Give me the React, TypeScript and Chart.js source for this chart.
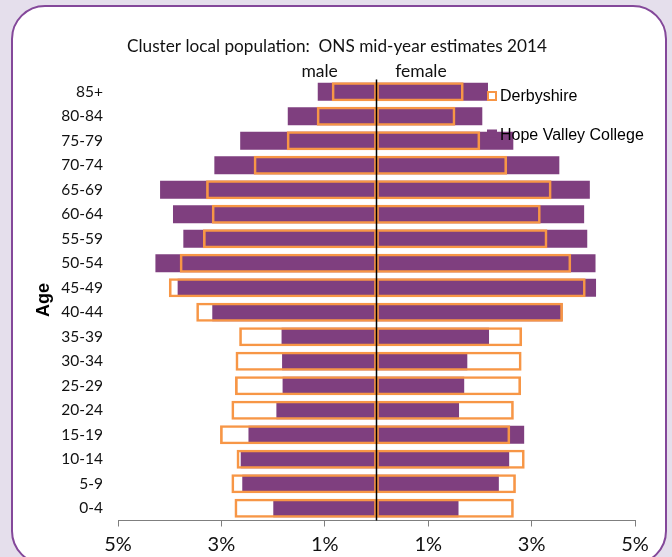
import React, { useEffect, useRef } from "react";
import { Chart, registerables } from "chart.js";

Chart.register(...registerables);

const ageGroups = [
  "85+", "80-84", "75-79", "70-74", "65-69", "60-64", "55-59", "50-54", "45-49",
  "40-44", "35-39", "30-34", "25-29", "20-24", "15-19", "10-14", "5-9", "0-4",
];

// percentages of population (male shown to the left)
const derbyshireMale = [0.86, 1.15, 1.73, 2.37, 3.29, 3.18, 3.35, 3.8, 4.01, 3.48, 2.65, 2.72, 2.73, 2.8, 3.02, 2.7, 2.8, 2.74];
const derbyshireFemale = [1.68, 1.52, 2.0, 2.52, 3.38, 3.17, 3.3, 3.76, 4.04, 3.6, 2.81, 2.8, 2.79, 2.65, 2.58, 2.86, 2.69, 2.65];
const hopeValleyMale = [1.13, 1.71, 2.63, 3.13, 4.18, 3.93, 3.73, 4.27, 3.84, 3.17, 1.83, 1.82, 1.81, 1.93, 2.47, 2.62, 2.59, 1.99];
const hopeValleyFemale = [2.15, 2.04, 2.64, 3.53, 4.12, 4.01, 4.07, 4.23, 4.24, 3.59, 2.17, 1.75, 1.69, 1.59, 2.85, 2.56, 2.36, 1.58];

const xTickValues = [-5, -3, -1, 1, 3, 5];

const chartTitle = "Cluster local population:  ONS mid-year estimates 2014";
const sideLabels = [
  { text: "male", value: -1.1 },
  { text: "female", value: 0.86 },
];
const legendItems = [
  { text: "Derbyshire", kind: "outline" },
  { text: "Hope Valley College", kind: "fill" },
];

const PURPLE = "#7f3f7f";
const ORANGE = "#f79646";
const HUMANIST = "Lato, 'Open Sans', sans-serif";
const ARIAL = "'Liberation Sans', Arial, sans-serif";

const decorPlugin = {
  id: "decor",
  afterDatasetsDraw(chart: any) {
    const { ctx, chartArea, scales } = chart;
    const x0 = scales.x.getPixelForValue(0);
    ctx.save();
    ctx.strokeStyle = "#000";
    ctx.lineWidth = 1.5;
    ctx.beginPath();
    ctx.moveTo(x0, chartArea.top);
    ctx.lineTo(x0, chartArea.bottom);
    ctx.stroke();
    ctx.restore();
  },
  afterDraw(chart: any) {
    const { ctx, chartArea, scales } = chart;
    ctx.save();
    ctx.fillStyle = "#111";
    ctx.textBaseline = "middle";
    ctx.textAlign = "center";
    ctx.font = `17.2px ${HUMANIST}`;
    ctx.fillText(chartTitle, 337, chartArea.top - 33);
    ctx.font = `17.5px ${HUMANIST}`;
    for (const s of sideLabels) {
      ctx.fillText(s.text, scales.x.getPixelForValue(s.value), chartArea.top - 8.5);
    }
    // legend
    ctx.textAlign = "left";
    ctx.font = `16px ${ARIAL}`;
    const lx = chartArea.right - 147;
    legendItems.forEach((item, i) => {
      const cy = chartArea.top + 16.5 + i * 38.5;
      if (item.kind === "outline") {
        ctx.strokeStyle = ORANGE;
        ctx.lineWidth = 2;
        ctx.fillStyle = "#fff";
        ctx.fillRect(lx, cy - 4, 8, 8);
        ctx.strokeRect(lx, cy - 4, 8, 8);
      } else {
        ctx.fillStyle = PURPLE;
        ctx.fillRect(lx - 1, cy - 5, 10, 8);
      }
      ctx.fillStyle = "#000";
      ctx.fillText(item.text, lx + 12, cy + 1);
    });
    ctx.restore();
  },
};

export default function App() {
  const ref = useRef<HTMLCanvasElement | null>(null);

  useEffect(() => {
    if (!ref.current) return;
    const outline = {
      backgroundColor: "rgba(0,0,0,0)",
      borderColor: ORANGE,
      borderWidth: 2,
      borderSkipped: false,
      barThickness: 18.5,
      grouped: false,
    };
    const filled = {
      backgroundColor: PURPLE,
      borderWidth: 0,
      barThickness: 17.5,
      grouped: false,
    };
    const chart = new Chart(ref.current, {
      type: "bar",
      data: {
        labels: ageGroups,
        datasets: [
          { label: "Derbyshire", data: derbyshireMale.map((v) => -v), ...outline },
          { label: "Derbyshire", data: derbyshireFemale, ...outline },
          { label: "Hope Valley College", data: hopeValleyMale.map((v) => -v), ...filled },
          { label: "Hope Valley College", data: hopeValleyFemale, ...filled },
        ] as any,
      },
      options: {
        indexAxis: "y",
        animation: false,
        responsive: false,
        devicePixelRatio: 1,
        layout: { padding: { top: 79.5, right: 37, bottom: 0, left: 0 } },
        plugins: {
          legend: { display: false },
          title: { display: false },
          tooltip: { enabled: false },
        },
        scales: {
          x: {
            type: "linear",
            min: -5,
            max: 5,
            afterBuildTicks: (s: any) => {
              s.ticks = xTickValues.map((v) => ({ value: v }));
            },
            afterFit: (s: any) => {
              s.height = 36.5;
            },
            grid: {
              drawOnChartArea: false,
              drawTicks: true,
              tickLength: 6,
              color: "#7f7f7f",
            },
            border: { display: true, color: "#7f7f7f", width: 1 },
            ticks: {
              padding: 6,
              color: "#111",
              font: { family: HUMANIST, size: 20 },
              callback: (v: any) => Math.abs(Number(v)) + "%",
            },
          },
          y: {
            type: "category",
            afterFit: (s: any) => {
              s.width = 118;
            },
            grid: { display: false, drawTicks: false },
            border: { display: false },
            ticks: {
              padding: 15,
              color: "#111",
              font: { family: HUMANIST, size: 15.5 },
            },
            title: {
              display: true,
              text: "Age",
              color: "#000",
              font: { family: ARIAL, size: 18, weight: "bold" },
              padding: { top: 33, bottom: 0 },
            },
          },
        },
      } as any,
      plugins: [decorPlugin],
    });
    return () => chart.destroy();
  }, []);

  return (
    <div
      style={{
        position: "fixed",
        left: 0,
        top: 0,
        width: 672,
        height: 557,
        background: "#e5dfec",
        overflow: "hidden",
      }}
    >
      <div
        style={{
          position: "absolute",
          left: 11,
          top: 5,
          width: 656,
          height: 560,
          boxSizing: "border-box",
          border: "2px solid #84489a",
          borderRadius: 34,
          background: "#fff",
        }}
      />
      <canvas
        ref={ref}
        width={672}
        height={557}
        style={{ position: "absolute", left: 0, top: 0, width: 672, height: 557 }}
      />
    </div>
  );
}
